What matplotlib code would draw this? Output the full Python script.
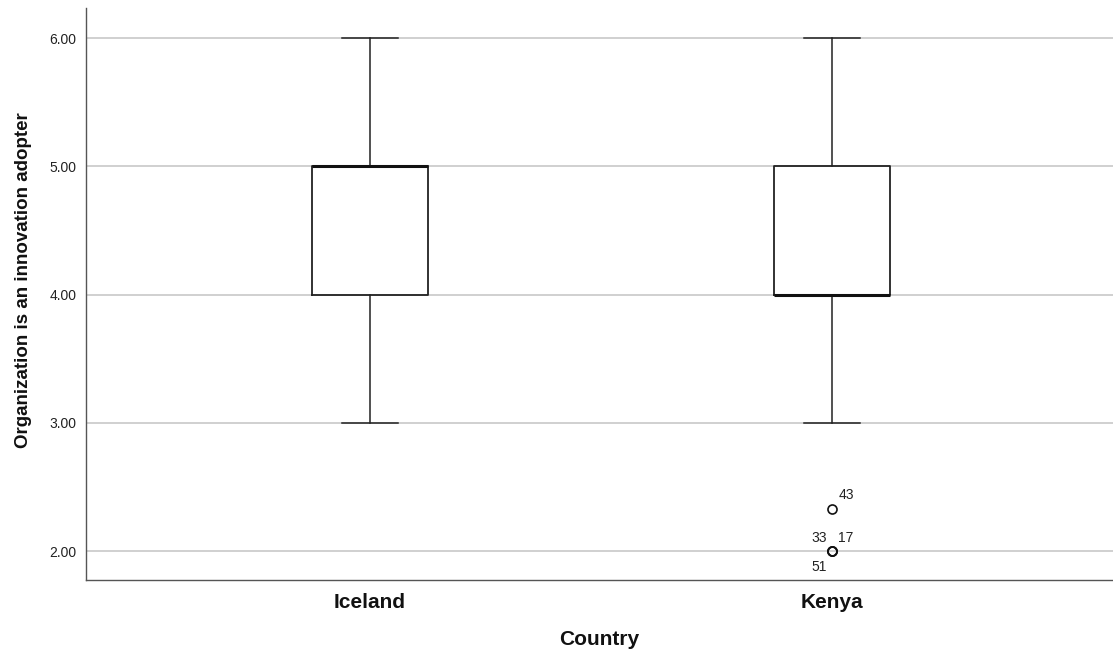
import matplotlib
matplotlib.use("Agg")
import matplotlib.pyplot as plt

categories = ["Iceland", "Kenya"]
q1 = [4.0, 4.0]
median = [5.0, 4.0]
q3 = [5.0, 5.0]
whisker_low = [3.0, 3.0]
whisker_high = [6.0, 6.0]
outliers = [[], [2.33, 2.0, 2.0, 2.0]]
outlier_labels = [[], ["43", "33", "17", "51"]]
y_ticks = [2.0, 3.0, 4.0, 5.0, 6.0]

plt.rcParams['font.family'] = ['Liberation Sans', 'DejaVu Sans']

fig = plt.figure(figsize=(11.13, 6.61), dpi=100)
ax = fig.add_axes([86/1113, 1 - 580/661, (1113-86)/1113, (580-8)/661])

stats = []
for i, c in enumerate(categories):
    stats.append(dict(label=c, q1=q1[i], med=median[i], q3=q3[i],
                      whislo=whisker_low[i], whishi=whisker_high[i],
                      fliers=outliers[i]))

positions = list(range(1, len(categories) + 1))
ax.bxp(stats, positions=positions, widths=0.25, showfliers=True,
       boxprops=dict(color="#222222", linewidth=1.3),
       medianprops=dict(color="#111111", linewidth=2.2),
       whiskerprops=dict(color="#222222", linewidth=1.1),
       capprops=dict(color="#222222", linewidth=1.1),
       capwidths=0.12,
       flierprops=dict(marker="o", markersize=6.5, markerfacecolor="none",
                       markeredgecolor="#111111", markeredgewidth=1.2))

# outlier labels (offsets in points)
offsets = {"43": (4.5, 10, "left"), "33": (-3.5, 9.5, "right"),
           "17": (4.5, 9.5, "left"), "51": (-3.5, -11.5, "right")}
for i, (vals, labs) in enumerate(zip(outliers, outlier_labels)):
    for v, lab in zip(vals, labs):
        dx, dy, ha = offsets[lab]
        ax.annotate(lab, (positions[i], v), xytext=(dx, dy), textcoords="offset points",
                    ha=ha, va="center", fontsize=10, color="#222222")

ax.set_xlim(0.3853, 2.608)
ax.set_ylim(1.774, 6.234)
ax.set_yticks(y_ticks)
ax.set_yticklabels([f"{t:.2f}" for t in y_ticks], fontsize=10, color="#222222")
ax.set_xticks(positions)
ax.set_xticklabels(categories, fontsize=15, fontweight="bold", color="#111111")
ax.tick_params(axis="y", length=0, pad=7)
ax.tick_params(axis="x", length=0, pad=9)
ax.yaxis.grid(True, color="#c8c8c8", linewidth=1.2)
ax.set_axisbelow(True)
for s in ["top", "right"]:
    ax.spines[s].set_visible(False)
for s in ["left", "bottom"]:
    ax.spines[s].set_color("#555555")
    ax.spines[s].set_linewidth(1.0)

ax.set_ylabel("Organization is an innovation adopter", fontsize=13.5, fontweight="bold",
              color="#111111")
ax.yaxis.set_label_coords(-0.0525, (580 - 280) / 572)
ax.set_xlabel("Country", fontsize=15, fontweight="bold", color="#111111")
ax.xaxis.set_label_coords(0.5, -(630 - 580) / 572)

fig.savefig("out.png", dpi=100, facecolor="white")
